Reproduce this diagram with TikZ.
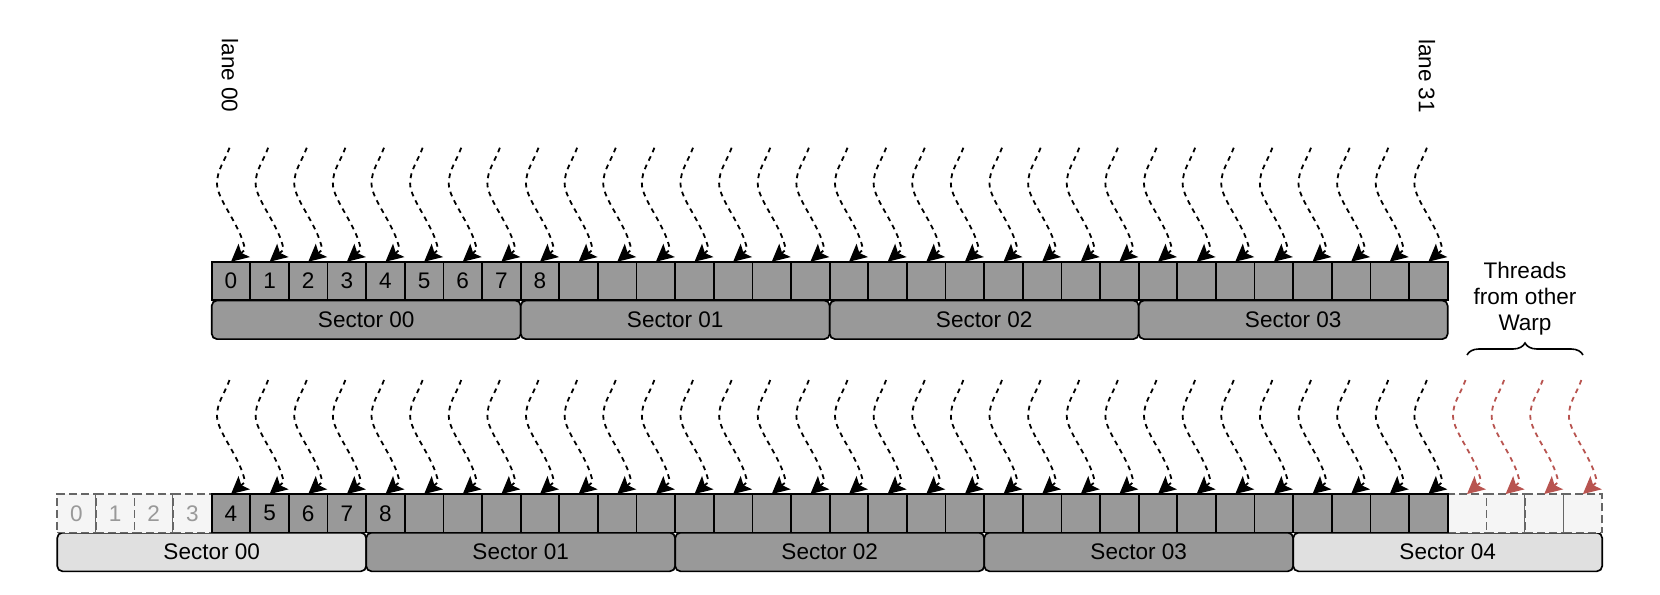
\documentclass[tikz,border=0pt]{standalone}
\usepackage{fontspec}
\setmainfont{Liberation Sans}
\usetikzlibrary{arrows.meta,calc,decorations.pathreplacing}
\definecolor{cellgray}{HTML}{999999}
\definecolor{lightsec}{HTML}{E0E0E0}
\definecolor{dashfill}{HTML}{F5F5F5}
\definecolor{dashline}{HTML}{666666}
\definecolor{graytext}{HTML}{999999}
\definecolor{redc}{HTML}{B85450}
\begin{document}
\begin{tikzpicture}[x=0.75pt,y=-0.75pt,
  font=\fontsize{16.9}{19.5}\selectfont,
  cell/.style={draw=black, fill=cellgray, line width=1.25pt, minimum width=28.97pt, minimum height=28.9pt, inner sep=0pt, outer sep=0pt},
  dcell/.style={draw=dashline, fill=dashfill, dash pattern=on 6pt off 3pt, line width=1.2pt, text=graytext, minimum width=28.97pt, minimum height=28.9pt, inner sep=0pt, outer sep=0pt},
  sector/.style={draw=black, fill=cellgray, rounded corners=4pt, line width=1.25pt, minimum width=231.75pt, minimum height=29pt, inner sep=0pt, outer sep=0pt},
  lsector/.style={sector, fill=lightsec},
  darr/.style={draw=black, dash pattern=on 3.6pt off 3.4pt, line width=1.35pt, -{Stealth[length=13pt,width=13pt,inset=2.8pt]}},
  rarr/.style={darr, draw=redc}
]
\useasboundingbox (0,0) rectangle (1660,595);

% ---- top row ----
\foreach \k in {0,...,3}
  \node[sector] (sa\k) at ({366.2+309*\k},319.8) {Sector 0\k};
\foreach \i in {0,...,31}{
  \ifnum\i<9 \def\lab{\i}\else\def\lab{}\fi
  \node[cell] (t\i) at ({231+38.625*\i},281) {\lab};
}
\foreach \i in {0,...,31}{
  \coordinate (ua\i) at ($(t\i.north)+(-1.5,-114)$);
  \draw[darr] (ua\i) .. controls +(-5,14) and +(0,-14) .. ++(-12.5,36)
     .. controls +(0,16) and +(-4,-24) .. ++(28,66) -- (t\i.north);
}

% ---- bottom row ----
\node[lsector] (sb0) at (211.7,552) {Sector 00};
\foreach \k in {1,2,3}
  \node[sector] (sb\k) at ({211.7+309*\k},552) {Sector 0\k};
\node[lsector] (sb4) at ({211.7+309*4},552) {Sector 04};

\foreach \i in {0,...,3}
  \node[dcell] (b\i) at ({76.5+38.625*\i},513.3) {\i};
\foreach \i in {36,...,39}
  \node[dcell] (b\i) at ({76.5+38.625*\i},513.3) {};
\foreach \i in {4,...,35}{
  \ifnum\i<9 \def\lab{\i}\else\def\lab{}\fi
  \node[cell] (b\i) at ({76.5+38.625*\i},513.3) {\lab};
}
\foreach \i in {4,...,39}{
  \ifnum\i<36 \def\st{darr}\else\def\st{rarr}\fi
  \coordinate (ub\i) at ($(b\i.north)+(-1.5,-114)$);
  \draw[\st] (ub\i) .. controls +(-5,14) and +(0,-14) .. ++(-12.5,36)
     .. controls +(0,16) and +(-4,-24) .. ++(28,66) -- (b\i.north);
}

% ---- labels ----
\node[rotate=-90] (l0) at (230,75.5) {lane 00};
\node[rotate=-90] (l31) at (1427,76) {lane 31};
\node[align=center] (thr) at (1525,299) {Threads\\from other\\Warp};
\coordinate (brl) at (1467,355);
\coordinate (brr) at (1583,355);
\draw[line width=1.2pt, decorate, decoration={brace, amplitude=9pt}] (brl) -- (brr);
\end{tikzpicture}
\end{document}
